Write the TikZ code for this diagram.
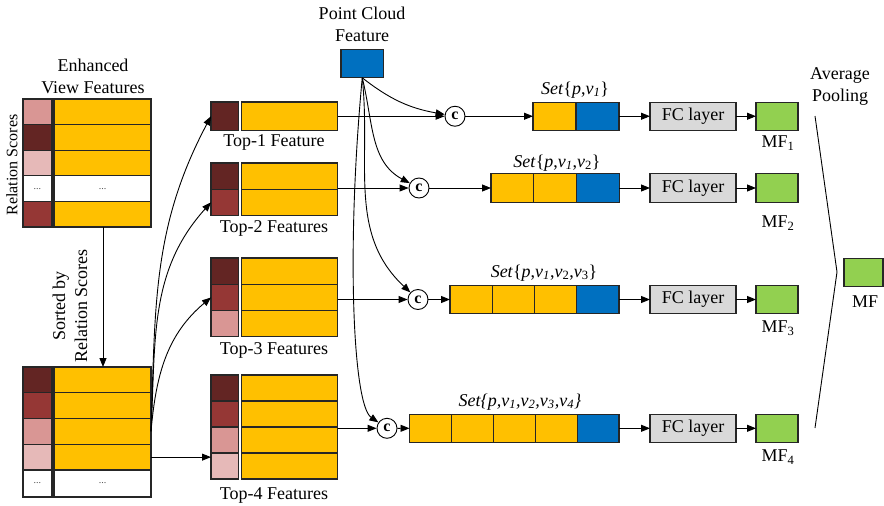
\documentclass[tikz,border=0pt]{standalone}
\usepackage{fontspec}
\setmainfont{Liberation Serif}
\usetikzlibrary{arrows.meta}
\definecolor{cdark}{HTML}{632523}
\definecolor{cmed}{HTML}{953735}
\definecolor{cpink}{HTML}{D99694}
\definecolor{clight}{HTML}{E6B9B8}
\definecolor{corange}{HTML}{FFC000}
\definecolor{cblue}{HTML}{0070C0}
\definecolor{cgreen}{HTML}{92D050}
\definecolor{cgray}{HTML}{D9D9D9}
\begin{document}
\begin{tikzpicture}[x=1pt,y=-1pt,
  cellbox/.style={draw=black!85, line width=1.1pt, inner sep=0pt, outer sep=0pt, anchor=north west},
  cb/.style 2 args={cellbox, minimum width=#1, minimum height=#2},
  lbl/.style={font=\fontsize{18}{22}\selectfont, align=center, inner sep=0pt},
  dotsf/.style={font=\fontsize{10}{12}\selectfont, text=black!70},
  boxtxt/.style={font=\fontsize{18}{22}\selectfont},
  cnode/.style={draw=black, line width=0.9pt, circle, minimum size=20pt, inner sep=0pt, fill=white, font=\fontsize{16}{18}\selectfont\bfseries},
  arr/.style={line width=0.9pt, -{Triangle[length=9pt,width=7pt]}},
  plain/.style={line width=0.9pt}
]
\useasboundingbox (0,0) rectangle (884,506);

% ---------- top-left block: Enhanced View Features ----------
\node[lbl] (evf) at (93,76) {Enhanced\\View Features};
\node[lbl, font=\fontsize{16}{20}\selectfont, rotate=90] (rs) at (12,165) {Relation Scores};
\node[cb={29pt}{25.6pt}, fill=cpink] (ls0) at (23,99) {};
\node[cb={29pt}{25.6pt}, fill=cdark] (ls1) at (23,124.6) {};
\node[cb={29pt}{25.6pt}, fill=clight] (ls2) at (23,150.2) {};
\node[cb={29pt}{25.6pt}, fill=white, dotsf] (ls3) at (23,175.8) {...};
\node[cb={29pt}{25.6pt}, fill=cmed] (ls4) at (23,201.4) {};
\node[cb={97pt}{25.6pt}, fill=corange] (lf0) at (54,99) {};
\node[cb={97pt}{25.6pt}, fill=corange] (lf1) at (54,124.6) {};
\node[cb={97pt}{25.6pt}, fill=corange] (lf2) at (54,150.2) {};
\node[cb={97pt}{25.6pt}, fill=white, dotsf] (lf3) at (54,175.8) {...};
\node[cb={97pt}{25.6pt}, fill=corange] (lf4) at (54,201.4) {};

% ---------- bottom-left block: sorted ----------
\node[lbl, rotate=90] (sorted) at (70,306) {Sorted by\\Relation Scores};
\node[cb={29pt}{25.75pt}, fill=cdark] (bs0) at (23,367) {};
\node[cb={29pt}{25.75pt}, fill=cmed] (bs1) at (23,392.75) {};
\node[cb={29pt}{25.75pt}, fill=cpink] (bs2) at (23,418.5) {};
\node[cb={29pt}{25.75pt}, fill=clight] (bs3) at (23,444.25) {};
\node[cb={29pt}{27pt}, fill=white, dotsf] (bs4) at (23,470) {...};
\node[cb={97pt}{25.75pt}, fill=corange] (bf0) at (54,367) {};
\node[cb={97pt}{25.75pt}, fill=corange] (bf1) at (54,392.75) {};
\node[cb={97pt}{25.75pt}, fill=corange] (bf2) at (54,418.5) {};
\node[cb={97pt}{25.75pt}, fill=corange] (bf3) at (54,444.25) {};
\node[cb={97pt}{27pt}, fill=white, dotsf] (bf4) at (54,470) {...};
\draw[arr] (lf4.south -| 103,0) -- (bf0.north -| 103,0);

% ---------- Top-k blocks ----------
% Top-1
\node[cb={27.5pt}{28.5pt}, fill=cdark] (t1s0) at (211,102) {};
\node[cb={96pt}{28.5pt}, fill=corange] (t1f0) at (241.5,102) {};
\node[lbl] (t1l) at (274,142) {Top-1 Feature};
% Top-2
\node[cb={27.5pt}{26.25pt}, fill=cdark] (t2s0) at (211,163) {};
\node[cb={27.5pt}{26.25pt}, fill=cmed] (t2s1) at (211,189.25) {};
\node[cb={96pt}{26.25pt}, fill=corange] (t2f0) at (241.5,163) {};
\node[cb={96pt}{26.25pt}, fill=corange] (t2f1) at (241.5,189.25) {};
\node[lbl] (t2l) at (274,228) {Top-2 Features};
% Top-3
\node[cb={27.5pt}{26.3pt}, fill=cdark] (t3s0) at (211,258) {};
\node[cb={27.5pt}{26.3pt}, fill=cmed] (t3s1) at (211,284.3) {};
\node[cb={27.5pt}{26.3pt}, fill=cpink] (t3s2) at (211,310.6) {};
\node[cb={96pt}{26.3pt}, fill=corange] (t3f0) at (241.5,258) {};
\node[cb={96pt}{26.3pt}, fill=corange] (t3f1) at (241.5,284.3) {};
\node[cb={96pt}{26.3pt}, fill=corange] (t3f2) at (241.5,310.6) {};
\node[lbl] (t3l) at (274,350) {Top-3 Features};
% Top-4
\node[cb={27.5pt}{26pt}, fill=cdark] (t4s0) at (211,375) {};
\node[cb={27.5pt}{26pt}, fill=cmed] (t4s1) at (211,401) {};
\node[cb={27.5pt}{26pt}, fill=cpink] (t4s2) at (211,427) {};
\node[cb={27.5pt}{26pt}, fill=clight] (t4s3) at (211,453) {};
\node[cb={96pt}{26pt}, fill=corange] (t4f0) at (241.5,375) {};
\node[cb={96pt}{26pt}, fill=corange] (t4f1) at (241.5,401) {};
\node[cb={96pt}{26pt}, fill=corange] (t4f2) at (241.5,427) {};
\node[cb={96pt}{26pt}, fill=corange] (t4f3) at (241.5,453) {};
\node[lbl] (t4l) at (274,495) {Top-4 Features};

% selection arrows
\draw[arr] (bf2.east) to[out=88,in=-118] (t1s0.west);
\draw[arr] (bf2.east) to[out=87,in=-132] (t2s1.west);
\draw[arr] (bf2.east) to[out=85,in=-140] (t3s1.west);
\draw[arr] (bf3.east) -- (bf3.east -| t4s3.west);

% ---------- point cloud ----------
\node[lbl] (pcl) at (362,24) {Point Cloud\\Feature};
\node[cb={42.5pt}{28.5pt}, fill=cblue] (pc) at (341,49.3) {};

% concat nodes
\node[cnode] (c1) at (455,116.25) {c};
\node[cnode] (c2) at (419,188) {c};
\node[cnode] (c3) at (418,299.5) {c};
\node[cnode] (c4) at (387,428.3) {c};

\draw[arr] (t1f0.east) -- (c1);
\draw[arr] (t2f0.south east |- c2) -- (c2);
\draw[arr] (t3f1.east |- c3) -- (c3);
\draw[arr] (t4f1.south east |- c4) -- (c4);

\draw[arr] (pc.south) to[out=-38,in=170] (c1);
\draw[arr] (pc.south) to[out=-76,in=152] (c2);
\draw[arr] (pc.south) to[out=-84,in=137] (c3);
\draw[arr] (pc.south) .. controls (346,250) and (353,405) .. (c4);

% ---------- sets ----------
\node[cb={43pt}{28.3pt}, fill=corange] (s1a) at (533,102.1) {};
\node[cb={43pt}{28.3pt}, fill=cblue] (s1b) at (576,102.1) {};
\node[lbl] (s1l) at (575,90) {\textit{Set}\{\textit{p},\textit{v}\textsubscript{\textit{1}}\}};

\node[cb={42.7pt}{28.3pt}, fill=corange] (s2a) at (491,173.85) {};
\node[cb={42.7pt}{28.3pt}, fill=corange] (s2b) at (533.7,173.85) {};
\node[cb={42.7pt}{28.3pt}, fill=cblue] (s2c) at (576.4,173.85) {};
\node[lbl] (s2l) at (557,163) {\textit{Set}\{\textit{p},\textit{v}\textsubscript{\textit{1}},\textit{v}\textsubscript{2}\}};

\node[cb={42.25pt}{28.3pt}, fill=corange] (s3a) at (450,285.35) {};
\node[cb={42.25pt}{28.3pt}, fill=corange] (s3b) at (492.25,285.35) {};
\node[cb={42.25pt}{28.3pt}, fill=corange] (s3c) at (534.5,285.35) {};
\node[cb={42.25pt}{28.3pt}, fill=cblue] (s3d) at (576.75,285.35) {};
\node[lbl] (s3l) at (544,273) {\textit{Set}\{\textit{p},\textit{v}\textsubscript{\textit{1}},\textit{v}\textsubscript{2},\textit{v}\textsubscript{3}\}};

\node[cb={41.9pt}{28.3pt}, fill=corange] (s4a) at (409.5,414.15) {};
\node[cb={41.9pt}{28.3pt}, fill=corange] (s4b) at (451.4,414.15) {};
\node[cb={41.9pt}{28.3pt}, fill=corange] (s4c) at (493.3,414.15) {};
\node[cb={41.9pt}{28.3pt}, fill=corange] (s4d) at (535.2,414.15) {};
\node[cb={41.9pt}{28.3pt}, fill=cblue] (s4e) at (577.1,414.15) {};
\node[lbl] (s4l) at (520,402) {\textit{Set\{p,v\textsubscript{1},v\textsubscript{2},v\textsubscript{3},v\textsubscript{4}\}}};

\draw[arr] (c1) -- (s1a);
\draw[arr] (c2) -- (s2a);
\draw[arr] (c3) -- (c3 -| s3a.west);
\draw[arr] (c4) -- (s4a);

% ---------- FC and MF ----------
\node[cb={86pt}{28.3pt}, fill=cgray, boxtxt] (fc1) at (650,102.1) {FC layer};
\node[cb={86pt}{28.3pt}, fill=cgray, boxtxt] (fc2) at (650,173.85) {FC layer};
\node[cb={86pt}{28.3pt}, fill=cgray, boxtxt] (fc3) at (650,285.35) {FC layer};
\node[cb={86pt}{28.3pt}, fill=cgray, boxtxt] (fc4) at (650,414.15) {FC layer};
\node[cb={42pt}{28.3pt}, fill=cgreen] (mf1) at (756,102.1) {};
\node[cb={42pt}{28.3pt}, fill=cgreen] (mf2) at (756,173.85) {};
\node[cb={42pt}{28.3pt}, fill=cgreen] (mf3) at (756,285.35) {};
\node[cb={42pt}{28.3pt}, fill=cgreen] (mf4) at (756,414.15) {};
\node[lbl] (mf1l) at (778,143) {MF\textsubscript{1}};
\node[lbl] (mf2l) at (778,223) {MF\textsubscript{2}};
\node[lbl] (mf3l) at (778,328) {MF\textsubscript{3}};
\node[lbl] (mf4l) at (778,457) {MF\textsubscript{4}};

\draw[arr] (s1b) -- (fc1);
\draw[arr] (s2c) -- (fc2);
\draw[arr] (s3d) -- (fc3);
\draw[arr] (s4e) -- (fc4);
\draw[arr] (fc1) -- (mf1);
\draw[arr] (fc2) -- (mf2);
\draw[arr] (fc3) -- (mf3);
\draw[arr] (fc4) -- (mf4);

% ---------- pooling ----------
\node[lbl] (apl) at (840,87) {Average\\Pooling};
\coordinate (pt) at (815,116);
\coordinate (pm) at (837,272);
\coordinate (pb) at (815,428);
\draw[plain] (pt) -- (pm) -- (pb);
\node[cb={39pt}{28.4pt}, fill=cgreen] (mf) at (844,258.3) {};
\node[lbl] (mfl) at (865,302) {MF};
\end{tikzpicture}
\end{document}
